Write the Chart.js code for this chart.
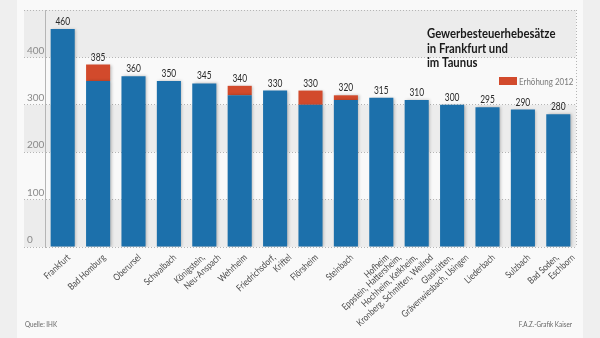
<!DOCTYPE html>
<html>
<head>
<meta charset="utf-8">
<script src="https://cdn.jsdelivr.net/npm/chart.js@4"></script>
<style>
  html, body { margin: 0; padding: 0; background: #efefef; }
  #wrap { width: 600px; height: 338px; }
</style>
</head>
<body>
<div id="wrap"><canvas id="chart" width="600" height="338"></canvas></div>
<script>
const FONT = "Lato, 'Open Sans', sans-serif";

// data
const categories = [
    'Frankfurt', 'Bad Homburg', 'Oberursel', 'Schwalbach',
    ['Königstein,', 'Neu-Anspach'], 'Wehrheim', ['Friedrichsdorf,', 'Kriftel'],
    'Flörsheim', 'Steinbach', 'Hofheim',
    ['Eppstein, Hattersheim,', 'Hochheim, Kelkheim,', 'Kronberg, Schmitten, Weilrod'],
    ['Glashütten,', 'Grävenwiesbach, Usingen'],
    'Liederbach', 'Sulzbach', ['Bad Soden,', 'Eschborn']
];
const baseValues     = [460, 350, 360, 350, 345, 320, 330, 300, 310, 315, 310, 300, 295, 290, 280];
const increaseValues = [null, 35, null, null, null, 20, null, 30, 10, null, null, null, null, null, null];
const yTicks = [0, 100, 200, 300, 400, 500];

const titleLines = ['Gewerbesteuerhebesätze', 'in Frankfurt und', 'im Taunus'];
const legendLabel = 'Erhöhung 2012';
const sourceText = 'Quelle: IHK';
const creditText = 'F.A.Z.-Grafik Kaiser';

const BLUE = '#1c70ab';
const RED = '#d24a2c';
const GRID = '#b5b5b5';

// draws text squeezed horizontally, the reference uses a condensed face
function narrowText(ctx, text, x, y, sx) {
    ctx.save();
    ctx.translate(x, y);
    ctx.scale(sx, 1);
    ctx.fillText(text, 0, 0);
    ctx.restore();
}

const decor = {
    id: 'decor',
    beforeDraw(chart) {
        const ctx = chart.ctx;
        const area = chart.chartArea;
        const y = chart.scales.y;
        ctx.save();
        ctx.fillStyle = '#efefef';
        ctx.fillRect(0, 0, chart.width, chart.height);
        ctx.fillStyle = '#f9f9f9';
        ctx.fillRect(17, 0, 566, chart.height);
        // alternating bands
        ctx.fillStyle = '#ececec';
        for (let i = 0; i < yTicks.length - 1; i += 2) {
            const top = y.getPixelForValue(yTicks[i + 1]);
            const bottom = y.getPixelForValue(yTicks[i]);
            ctx.fillRect(24, top, area.right - 24, bottom - top);
        }
        ctx.restore();
    },
    beforeDatasetsDraw(chart) {
        const ctx = chart.ctx;
        ctx.save();
        ctx.shadowColor = 'rgba(0,0,0,0.25)';
        ctx.shadowBlur = 3;
        ctx.shadowOffsetX = 1.5;
        ctx.shadowOffsetY = 0;
    },
    afterDatasetsDraw(chart) {
        const ctx = chart.ctx;
        ctx.restore();
        const x = chart.scales.x;
        const y = chart.scales.y;
        ctx.save();
        ctx.font = '10.5px ' + FONT;
        ctx.fillStyle = '#2a2a2a';
        ctx.textAlign = 'center';
        ctx.textBaseline = 'alphabetic';
        baseValues.forEach((v, i) => {
            const total = v + (increaseValues[i] || 0);
            narrowText(ctx, String(total), x.getPixelForValue(i), y.getPixelForValue(total) - 4, 0.8);
        });
        ctx.restore();
    },
    afterDraw(chart) {
        const ctx = chart.ctx;
        const area = chart.chartArea;
        const x = chart.scales.x;
        ctx.save();
        // right frame line
        ctx.strokeStyle = GRID;
        ctx.lineWidth = 1;
        ctx.setLineDash([1, 2]);
        ctx.beginPath();
        ctx.moveTo(area.right + 0.5, area.top);
        ctx.lineTo(area.right + 0.5, area.bottom);
        ctx.stroke();
        ctx.setLineDash([]);

        // category labels, rotated; multi-line labels step to the right
        ctx.fillStyle = '#4a4a4a';
        ctx.font = '9.5px ' + FONT;
        ctx.textAlign = 'right';
        ctx.textBaseline = 'middle';
        categories.forEach((lab, i) => {
            const lines = Array.isArray(lab) ? lab : [lab];
            const n = lines.length;
            const cx = x.getPixelForValue(i);
            lines.forEach((line, k) => {
                const off = n > 1 ? 12 - 16 * (n - 1 - k) : 3;
                ctx.save();
                ctx.translate(cx + off + 3, area.bottom + 9);
                ctx.rotate(-43 * Math.PI / 180);
                ctx.scale(0.82, 1);
                ctx.fillText(line, 0, 0);
                ctx.restore();
            });
        });

        // title
        ctx.fillStyle = '#1a1a1a';
        ctx.font = 'bold 13px ' + FONT;
        ctx.textAlign = 'left';
        ctx.textBaseline = 'alphabetic';
        titleLines.forEach((t, i) => narrowText(ctx, t, 427, 38 + i * 14.5, 0.87));

        // legend
        ctx.fillStyle = RED;
        ctx.fillRect(499, 77, 18, 8);
        ctx.fillStyle = '#7a7a7a';
        ctx.font = '9.5px ' + FONT;
        narrowText(ctx, legendLabel, 519, 84.5, 0.84);

        // footer
        ctx.fillStyle = '#666';
        ctx.font = '7px ' + FONT;
        narrowText(ctx, sourceText, 25, 327, 0.9);
        ctx.textAlign = 'right';
        narrowText(ctx, creditText, 572, 327, 0.9);
        ctx.restore();
    }
};

new Chart(document.getElementById('chart'), {
    type: 'bar',
    data: {
        labels: categories,
        datasets: [
            {
                label: 'Hebesatz',
                data: baseValues,
                backgroundColor: BLUE,
                categoryPercentage: 0.68,
                barPercentage: 1
            },
            {
                label: legendLabel,
                data: increaseValues,
                backgroundColor: RED,
                categoryPercentage: 0.68,
                barPercentage: 1
            }
        ]
    },
    options: {
        responsive: false,
        animation: false,
        layout: { padding: { left: 27, right: 24, top: 10, bottom: 0 } },
        plugins: {
            legend: { display: false },
            tooltip: { enabled: false }
        },
        scales: {
            x: {
                stacked: true,
                grid: { display: false, drawTicks: false },
                border: { display: false },
                ticks: { display: false },
                afterFit(scale) { scale.height = 91; }
            },
            y: {
                stacked: true,
                min: 0,
                max: 500,
                afterBuildTicks(scale) { scale.ticks = yTicks.map(v => ({ value: v })); },
                grid: {
                    color: GRID,
                    tickColor: GRID,
                    tickLength: 21,
                    tickBorderDash: [1, 2]
                },
                border: { display: true, color: GRID, dash: [1, 2] },
                ticks: {
                    color: '#8a8a8a',
                    font: { family: FONT, size: 10 },
                    crossAlign: 'far',
                    labelOffset: -7,
                    padding: 0,
                    callback: v => (v === 500 ? '' : v)
                },
                afterFit(scale) { scale.width = 18; }
            }
        }
    },
    plugins: [decor]
});
</script>
</body>
</html>
